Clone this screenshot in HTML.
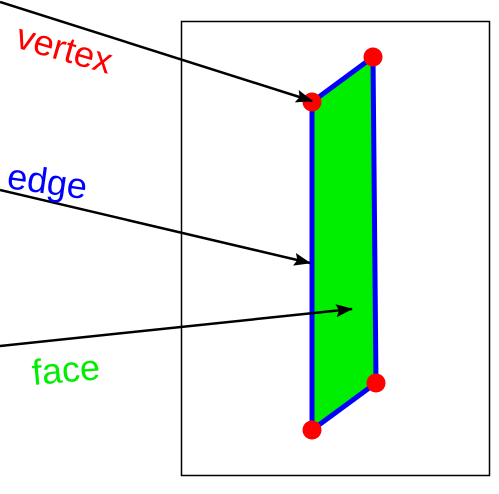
<!DOCTYPE html>
<html><head><meta charset="utf-8"><style>html,body{margin:0;padding:0;background:#fff}svg{display:block}</style></head>
<body>
<svg width="499" height="494" viewBox="0 0 499 494" xmlns="http://www.w3.org/2000/svg">
<defs><marker id="ah" markerWidth="17" markerHeight="13" refX="16" refY="6.5" orient="auto" markerUnits="userSpaceOnUse" viewBox="0 0 17 13"><path d="M0,0 L17,6.5 L0,13 L3,6.5 z" fill="#000"/></marker></defs>
<rect x="181.5" y="21.5" width="308" height="454" fill="none" stroke="#000" stroke-width="1.5"/>
<polygon points="312,102 373,57 376,383 312,430" fill="#00ee00" stroke="#0000ff" stroke-width="5" stroke-linejoin="round"/>
<circle cx="312" cy="102" r="9.5" fill="#ff0000"/>
<circle cx="373" cy="57" r="9.5" fill="#ff0000"/>
<circle cx="376" cy="383" r="9.5" fill="#ff0000"/>
<circle cx="312" cy="430" r="9.5" fill="#ff0000"/>
<line x1="0" y1="2" x2="312" y2="101" stroke="#000" stroke-width="2.5" marker-end="url(#ah)"/>
<line x1="0" y1="190" x2="310" y2="263" stroke="#000" stroke-width="2.5" marker-end="url(#ah)"/>
<line x1="0" y1="346" x2="352" y2="309" stroke="#000" stroke-width="2.5" marker-end="url(#ah)"/>
<text x="14" y="47" transform="rotate(16 14 47)" font-family="Liberation Sans, sans-serif" font-size="36" fill="#ff0000">vertex</text>
<text x="6" y="188" transform="rotate(8 6 188)" font-family="Liberation Sans, sans-serif" font-size="36" fill="#0000ff">edge</text>
<text x="33" y="385" transform="rotate(-5 33 385)" font-family="Liberation Sans, sans-serif" font-size="36" fill="#00ee00">face</text>
</svg>
</body></html>
